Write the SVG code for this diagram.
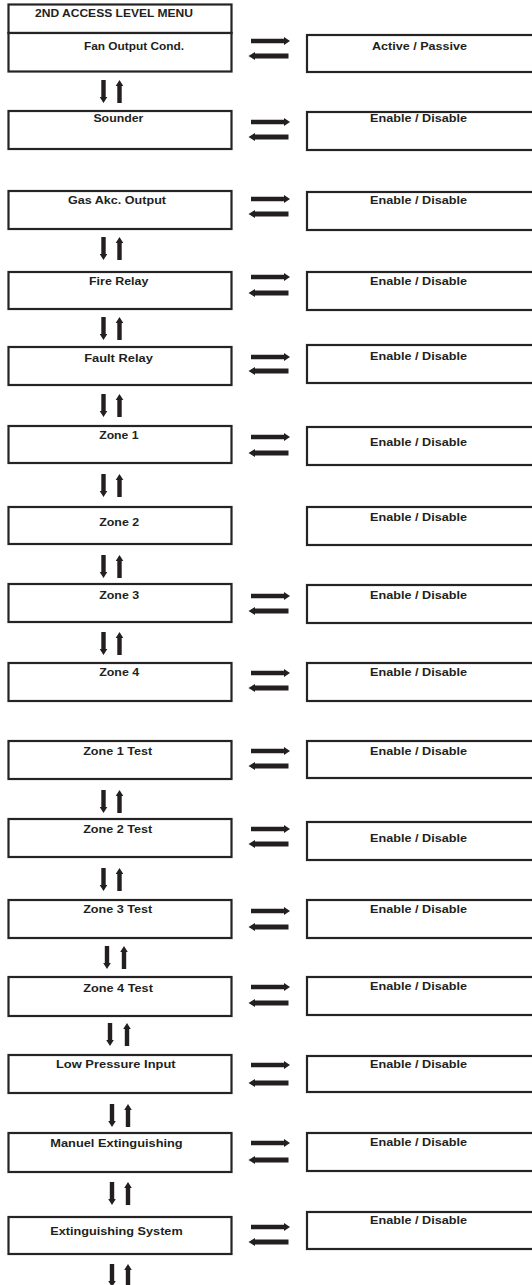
<svg xmlns="http://www.w3.org/2000/svg" xmlns:xlink="http://www.w3.org/1999/xlink" width="532" height="1285" viewBox="0 0 532 1285">
<style>
.box{fill:#fff;stroke:#262324;stroke-width:2.2}
.t{font-family:"Liberation Sans",Arial,sans-serif;font-weight:bold;font-size:11px;fill:#231f20}
.a{fill:#231f20}
</style>
<defs>
<path id="aR" d="M0,-2.3 H33 V-4 L39,0 L33,4 V2.3 H0 Z"/>
<path id="aL" d="M0,0 L6.5,-4 V-2.5 H40 V2.5 H6.5 V4 Z"/>
<path id="aD" d="M-2.2,0 H2.2 V17 H3.8 L0,23 L-3.8,17 H-2.2 Z"/>
<path id="aU" d="M-2.2,23 H2.2 V6 H3.8 L0,0 L-3.8,6 H-2.2 Z"/>
</defs>
<rect width="532" height="1285" fill="#fff"/>

<g id="n-title"><rect class="box" x="8.5" y="4.5" width="223" height="28.5"/><text class="t" x="35" y="17" textLength="158" lengthAdjust="spacingAndGlyphs">2ND ACCESS LEVEL MENU</text></g>
<g id="n-fan"><rect class="box" x="8.5" y="33" width="223" height="38.5"/><text class="t" x="84" y="50" textLength="100" lengthAdjust="spacingAndGlyphs">Fan Output Cond.</text></g>
<g id="o-fan"><rect class="box" x="307" y="35" width="240" height="37"/><text class="t" x="372" y="50" textLength="95" lengthAdjust="spacingAndGlyphs">Active / Passive</text></g>

<g id="n-sounder"><rect class="box" x="8.5" y="111" width="223" height="38"/><text class="t" x="93.4" y="122" textLength="50" lengthAdjust="spacingAndGlyphs">Sounder</text></g>
<g id="o-sounder"><rect class="box" x="307" y="112" width="240" height="38"/><text class="t" x="370" y="122" textLength="97" lengthAdjust="spacingAndGlyphs">Enable / Disable</text></g>

<g id="n-gas"><rect class="box" x="8.5" y="191" width="223" height="38"/><text class="t" x="68" y="204" textLength="98" lengthAdjust="spacingAndGlyphs">Gas Akc. Output</text></g>
<g id="o-gas"><rect class="box" x="307" y="192" width="240" height="38"/><text class="t" x="370" y="204" textLength="97" lengthAdjust="spacingAndGlyphs">Enable / Disable</text></g>

<g id="n-fire"><rect class="box" x="8.5" y="272" width="223" height="37"/><text class="t" x="89" y="285" textLength="59.4" lengthAdjust="spacingAndGlyphs">Fire Relay</text></g>
<g id="o-fire"><rect class="box" x="307" y="272" width="240" height="38"/><text class="t" x="370" y="285" textLength="97" lengthAdjust="spacingAndGlyphs">Enable / Disable</text></g>

<g id="n-fault"><rect class="box" x="8.5" y="347" width="223" height="38"/><text class="t" x="84.2" y="362" textLength="68.6" lengthAdjust="spacingAndGlyphs">Fault Relay</text></g>
<g id="o-fault"><rect class="box" x="307" y="345" width="240" height="38"/><text class="t" x="370" y="360" textLength="97" lengthAdjust="spacingAndGlyphs">Enable / Disable</text></g>

<g id="n-zone1"><rect class="box" x="8.5" y="426" width="223" height="37"/><text class="t" x="99.2" y="439" textLength="39.4" lengthAdjust="spacingAndGlyphs">Zone 1</text></g>
<g id="o-zone1"><rect class="box" x="307" y="427" width="240" height="38"/><text class="t" x="370" y="446" textLength="97" lengthAdjust="spacingAndGlyphs">Enable / Disable</text></g>

<g id="n-zone2"><rect class="box" x="8.5" y="507" width="223" height="37"/><text class="t" x="99.2" y="526" textLength="40" lengthAdjust="spacingAndGlyphs">Zone 2</text></g>
<g id="o-zone2"><rect class="box" x="307" y="507" width="240" height="38"/><text class="t" x="370" y="521" textLength="97" lengthAdjust="spacingAndGlyphs">Enable / Disable</text></g>

<g id="n-zone3"><rect class="box" x="8.5" y="584" width="223" height="38"/><text class="t" x="99.2" y="599" textLength="40" lengthAdjust="spacingAndGlyphs">Zone 3</text></g>
<g id="o-zone3"><rect class="box" x="307" y="585" width="240" height="38"/><text class="t" x="370" y="599" textLength="97" lengthAdjust="spacingAndGlyphs">Enable / Disable</text></g>

<g id="n-zone4"><rect class="box" x="8.5" y="663" width="223" height="38"/><text class="t" x="99.2" y="676" textLength="40" lengthAdjust="spacingAndGlyphs">Zone 4</text></g>
<g id="o-zone4"><rect class="box" x="307" y="663" width="240" height="38"/><text class="t" x="370" y="676" textLength="97" lengthAdjust="spacingAndGlyphs">Enable / Disable</text></g>

<g id="n-z1t"><rect class="box" x="8.5" y="741" width="223" height="38"/><text class="t" x="83.2" y="755" textLength="69" lengthAdjust="spacingAndGlyphs">Zone 1 Test</text></g>
<g id="o-z1t"><rect class="box" x="307" y="741" width="240" height="37"/><text class="t" x="370" y="755" textLength="97" lengthAdjust="spacingAndGlyphs">Enable / Disable</text></g>

<g id="n-z2t"><rect class="box" x="8.5" y="819" width="223" height="38"/><text class="t" x="83.2" y="833" textLength="69" lengthAdjust="spacingAndGlyphs">Zone 2 Test</text></g>
<g id="o-z2t"><rect class="box" x="307" y="822" width="240" height="38"/><text class="t" x="370" y="842" textLength="97" lengthAdjust="spacingAndGlyphs">Enable / Disable</text></g>

<g id="n-z3t"><rect class="box" x="8.5" y="900" width="223" height="38"/><text class="t" x="83.2" y="913" textLength="69" lengthAdjust="spacingAndGlyphs">Zone 3 Test</text></g>
<g id="o-z3t"><rect class="box" x="307" y="900" width="240" height="38"/><text class="t" x="370" y="913" textLength="97" lengthAdjust="spacingAndGlyphs">Enable / Disable</text></g>

<g id="n-z4t"><rect class="box" x="8.5" y="977" width="223" height="39"/><text class="t" x="83.2" y="992" textLength="69.7" lengthAdjust="spacingAndGlyphs">Zone 4 Test</text></g>
<g id="o-z4t"><rect class="box" x="307" y="977" width="240" height="38"/><text class="t" x="370" y="990" textLength="97" lengthAdjust="spacingAndGlyphs">Enable / Disable</text></g>

<g id="n-lowp"><rect class="box" x="8.5" y="1055" width="223" height="38"/><text class="t" x="56" y="1068" textLength="119.6" lengthAdjust="spacingAndGlyphs">Low Pressure Input</text></g>
<g id="o-lowp"><rect class="box" x="307" y="1056" width="240" height="36"/><text class="t" x="370" y="1068" textLength="97" lengthAdjust="spacingAndGlyphs">Enable / Disable</text></g>

<g id="n-manuel"><rect class="box" x="8.5" y="1133" width="223" height="39"/><text class="t" x="50.3" y="1147" textLength="132.4" lengthAdjust="spacingAndGlyphs">Manuel Extinguishing</text></g>
<g id="o-manuel"><rect class="box" x="307" y="1133" width="240" height="38"/><text class="t" x="370" y="1146" textLength="97" lengthAdjust="spacingAndGlyphs">Enable / Disable</text></g>

<g id="n-extsys"><rect class="box" x="8.5" y="1217" width="223" height="37"/><text class="t" x="50.3" y="1235" textLength="132.4" lengthAdjust="spacingAndGlyphs">Extinguishing System</text></g>
<g id="o-extsys"><rect class="box" x="307" y="1212" width="240" height="37"/><text class="t" x="370" y="1224" textLength="97" lengthAdjust="spacingAndGlyphs">Enable / Disable</text></g>

<g id="connectors" class="a">
<use href="#aR" x="251" y="41"/><use href="#aL" x="248.5" y="56"/>
<use href="#aR" x="251" y="122"/><use href="#aL" x="248.5" y="137"/>
<use href="#aR" x="251" y="199"/><use href="#aL" x="248.5" y="214"/>
<use href="#aR" x="251" y="277"/><use href="#aL" x="248.5" y="293"/>
<use href="#aR" x="251" y="357"/><use href="#aL" x="248.5" y="371"/>
<use href="#aR" x="251" y="437"/><use href="#aL" x="248.5" y="453"/>
<use href="#aR" x="251" y="596"/><use href="#aL" x="248.5" y="611"/>
<use href="#aR" x="251" y="673"/><use href="#aL" x="248.5" y="688"/>
<use href="#aR" x="251" y="751"/><use href="#aL" x="248.5" y="766"/>
<use href="#aR" x="251" y="829"/><use href="#aL" x="248.5" y="844"/>
<use href="#aR" x="251" y="911"/><use href="#aL" x="248.5" y="927"/>
<use href="#aR" x="251" y="987"/><use href="#aL" x="248.5" y="1003"/>
<use href="#aR" x="251" y="1065"/><use href="#aL" x="248.5" y="1083"/>
<use href="#aR" x="251" y="1143"/><use href="#aL" x="248.5" y="1160"/>
<use href="#aR" x="251" y="1227"/><use href="#aL" x="248.5" y="1242"/>

<use href="#aD" x="103.5" y="80"/><use href="#aU" x="119.5" y="80"/>
<use href="#aD" x="103.5" y="237"/><use href="#aU" x="119.5" y="237"/>
<use href="#aD" x="103.5" y="317"/><use href="#aU" x="119.5" y="317"/>
<use href="#aD" x="103.5" y="394"/><use href="#aU" x="119.5" y="394"/>
<use href="#aD" x="103.5" y="474"/><use href="#aU" x="119.5" y="474"/>
<use href="#aD" x="103.5" y="555"/><use href="#aU" x="119.5" y="555"/>
<use href="#aD" x="103.5" y="632"/><use href="#aU" x="119.5" y="632"/>
<use href="#aD" x="103.5" y="790"/><use href="#aU" x="119.5" y="790"/>
<use href="#aD" x="103.5" y="868"/><use href="#aU" x="119.5" y="868"/>
<use href="#aD" x="107" y="946"/><use href="#aU" x="124" y="946"/>
<use href="#aD" x="110" y="1023"/><use href="#aU" x="127" y="1023"/>
<use href="#aD" x="112" y="1104"/><use href="#aU" x="128" y="1104"/>
<use href="#aD" x="112" y="1182"/><use href="#aU" x="128" y="1182"/>
<use href="#aD" x="112" y="1264"/><use href="#aU" x="128" y="1264"/>
</g>
</svg>
